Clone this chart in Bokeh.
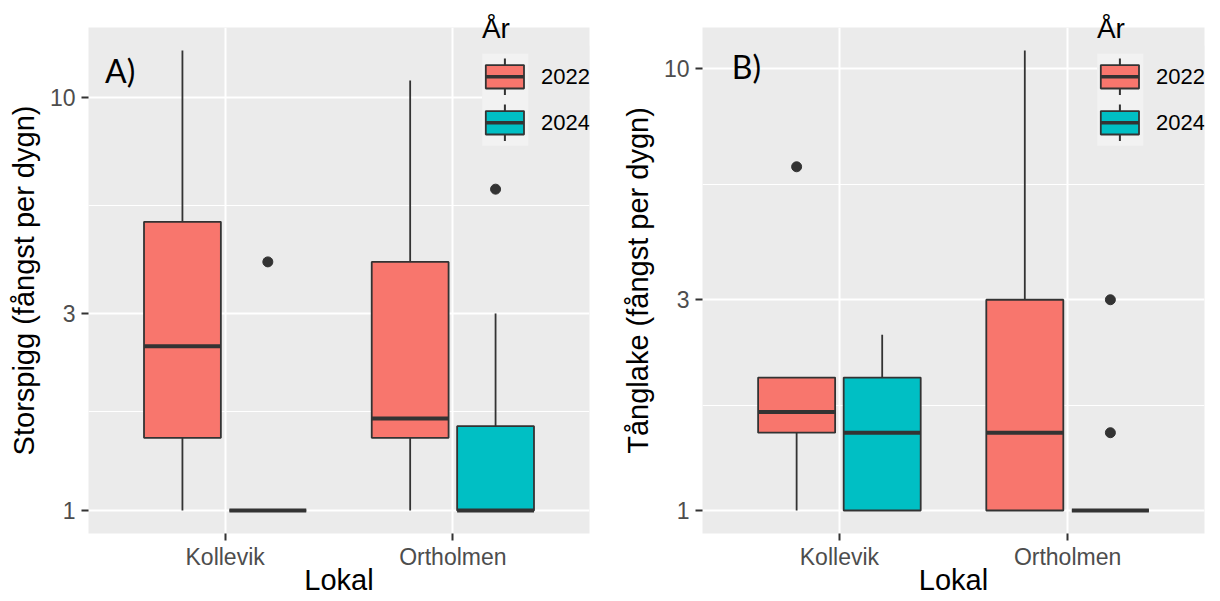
import math
from bokeh.plotting import figure
from bokeh.layouts import row
from bokeh.models import Range1d, FixedTicker, Label, BoxAnnotation, Title
from bokeh.embed import file_html
from bokeh.resources import INLINE

# ---------------- data ----------------
sites = ["Kollevik", "Ortholmen"]
years = ["2022", "2024"]
year_colors = ["#F8766D", "#00BFC4"]
y_ticks = [1, 3, 10]
legend_title = "År"
x_title = "Lokal"

# group order: Kollevik-2022, Kollevik-2024, Ortholmen-2022, Ortholmen-2024
group_site = [0, 0, 1, 1]
group_year = [0, 1, 0, 1]

# A) Storspigg (boxplot statistics)
stor_lo = [1, 1, 1, 1]
stor_q1 = [1.5, 1, 1.5, 1]
stor_med = [2.5, 1, 1.67, 1]
stor_q3 = [5, 1, 4, 1.6]
stor_hi = [13, 1, 11, 3]
stor_out_group = [1, 3]
stor_out_val = [4, 6]

# B) Tånglake
tang_lo = [1, 1, 1, 1]
tang_q1 = [1.5, 1, 1, 1]
tang_med = [1.67, 1.5, 1.5, 1]
tang_q3 = [2, 2, 3, 1]
tang_hi = [2, 2.5, 11, 1]
tang_out_group = [0, 3, 3]
tang_out_val = [6, 3, 1.5]

# ---------------- style ----------------
FONT = "Liberation Sans"
TAG_FONT = "Lato"
INK = "#333333"
PANEL_BG = "#EBEBEB"
KEY_BG = "#F2F2F2"
DODGE = 0.1875
BOXW = 0.3375

FIG_W, FIG_H = 610, 600
TOP = 27
FRAME_H = 506
BOTTOM = FIG_H - TOP - FRAME_H


def sbox(p, l, r, b, t, fill, line=None, lw=0):
    p.add_layout(BoxAnnotation(
        left=l, right=r, bottom=b, top=t,
        left_units="screen", right_units="screen",
        top_units="screen", bottom_units="screen",
        fill_color=fill, fill_alpha=1.0,
        line_color=line, line_alpha=1.0 if line else 0.0,
        line_width=lw, level="annotation"))


def make_panel(tag, tag_dx, tag_down, ylabel, lo, q1, med, q3, hi,
               out_g, out_v, left, fw):
    right = FIG_W - left - fw
    fh = FRAME_H

    xs = [group_site[i] + 1 + (DODGE if group_year[i] else -DODGE) for i in range(4)]
    cols = [year_colors[group_year[i]] for i in range(4)]

    allv = lo + q1 + med + q3 + hi + out_v
    lmin, lmax = math.log10(min(allv)), math.log10(max(allv))
    rng = lmax - lmin
    yr = Range1d(10 ** (lmin - 0.05 * rng), 10 ** (lmax + 0.05 * rng))

    p = figure(width=FIG_W, height=FIG_H, x_range=Range1d(0.4, 2.6), y_range=yr,
               y_axis_type="log", output_backend="svg", toolbar_location=None,
               tools="", min_border_left=left, min_border_right=right,
               min_border_top=TOP, min_border_bottom=BOTTOM)
    p.background_fill_color = PANEL_BG
    p.border_fill_color = "white"
    p.outline_line_color = None

    # grids
    p.xgrid.grid_line_color = "white"
    p.xgrid.grid_line_width = 2
    p.ygrid.grid_line_color = "white"
    p.ygrid.grid_line_width = 2
    p.ygrid.minor_grid_line_color = "white"
    p.ygrid.minor_grid_line_width = 1

    p.xaxis.ticker = FixedTicker(ticks=[i + 1 for i in range(len(sites))])
    p.xaxis.major_label_overrides = {i + 1: s for i, s in enumerate(sites)}
    minors = [math.sqrt(y_ticks[i] * y_ticks[i + 1]) for i in range(len(y_ticks) - 1)]
    p.yaxis.ticker = FixedTicker(ticks=y_ticks, minor_ticks=minors)
    p.yaxis.major_label_overrides = {t: str(t) for t in y_ticks}

    for ax in p.axis:
        ax.axis_line_color = None
        ax.major_tick_line_color = INK
        ax.major_tick_line_width = 2
        ax.major_tick_out = 7
        ax.major_tick_in = 0
        ax.minor_tick_line_color = None
        ax.major_label_text_color = "#4D4D4D"
        ax.major_label_text_font = FONT
        ax.major_label_text_font_size = "23px"
        ax.axis_label_text_font = FONT
        ax.axis_label_text_font_size = "29px"
        ax.axis_label_text_font_style = "normal"
        ax.axis_label_text_color = "black"
    p.yaxis.major_label_standoff = 6
    p.yaxis.axis_label_standoff = 7
    p.xaxis.major_label_standoff = 3
    p.xaxis.axis_label_standoff = -9
    p.yaxis.axis_label = ylabel
    p.xaxis.axis_label = x_title

    # whiskers
    p.segment(x0=xs, x1=xs, y0=q3, y1=hi, line_color=INK, line_width=1.8)
    p.segment(x0=xs, x1=xs, y0=lo, y1=q1, line_color=INK, line_width=1.8)
    # boxes
    p.vbar(x=xs, width=BOXW, bottom=q1, top=q3, fill_color=cols,
           line_color=INK, line_width=1.8)
    # medians
    p.segment(x0=[x - BOXW / 2 for x in xs], x1=[x + BOXW / 2 for x in xs],
              y0=med, y1=med, line_color=INK, line_width=4)
    # outliers
    p.scatter(x=[xs[g] for g in out_g], y=out_v, size=10,
              fill_color=INK, line_color=INK)

    # panel tag
    p.add_layout(Label(x=tag_dx, y=fh - tag_down, x_units="screen", y_units="screen",
                       text=tag, text_font=TAG_FONT, text_font_size="32px",
                       text_color="black", text_baseline="alphabetic",
                       text_align="left"))

    # legend (inside panel, top right)
    lx = fw - 107.3
    sbox(p, lx, fw, fh - 123, fh - 18, PANEL_BG)
    key_h = 46
    key_top = 26.3
    sbox(p, lx, lx + 46, fh - key_top - 2 * key_h, fh - key_top, KEY_BG)
    bx0, bx1 = lx + 3.6, lx + 41.8
    wx = (bx0 + bx1) / 2
    for k, yname in enumerate(years):
        c = key_top + key_h * k + 23
        sbox(p, wx - 1, wx + 1, fh - c - 18.3, fh - c + 18.3, INK)
        sbox(p, bx0, bx1, fh - c - 11.7, fh - c + 11.7, year_colors[k], INK, 1.8)
        sbox(p, bx0, bx1, fh - c - 1.8, fh - c + 1.8, INK)
        p.add_layout(Label(x=fw - 48.5, y=fh - c + 0.4, x_units="screen", y_units="screen",
                           text=yname, text_font=FONT, text_font_size="22px",
                           text_color="black", text_baseline="alphabetic"))
    # legend title, straddling the panel top edge
    p.add_layout(Title(text=legend_title, align="left", offset=lx - 0.3,
                       vertical_align="bottom", standoff=-32.4,
                       text_font=FONT, text_font_size="28px",
                       text_font_style="normal", text_color="black"), "above")
    return p


pA = make_panel("A)", 16.5, 43, "Storspigg (fångst per dygn)",
                stor_lo, stor_q1, stor_med, stor_q3, stor_hi,
                stor_out_group, stor_out_val, left=88, fw=501)
pB = make_panel("B)", 29.3, 38.5, "Tånglake (fångst per dygn)",
                tang_lo, tang_q1, tang_med, tang_q3, tang_hi,
                tang_out_group, tang_out_val, left=92, fw=502)

layout = row(pA, pB, spacing=0)
open("out.html", "w").write(file_html(layout, INLINE))
